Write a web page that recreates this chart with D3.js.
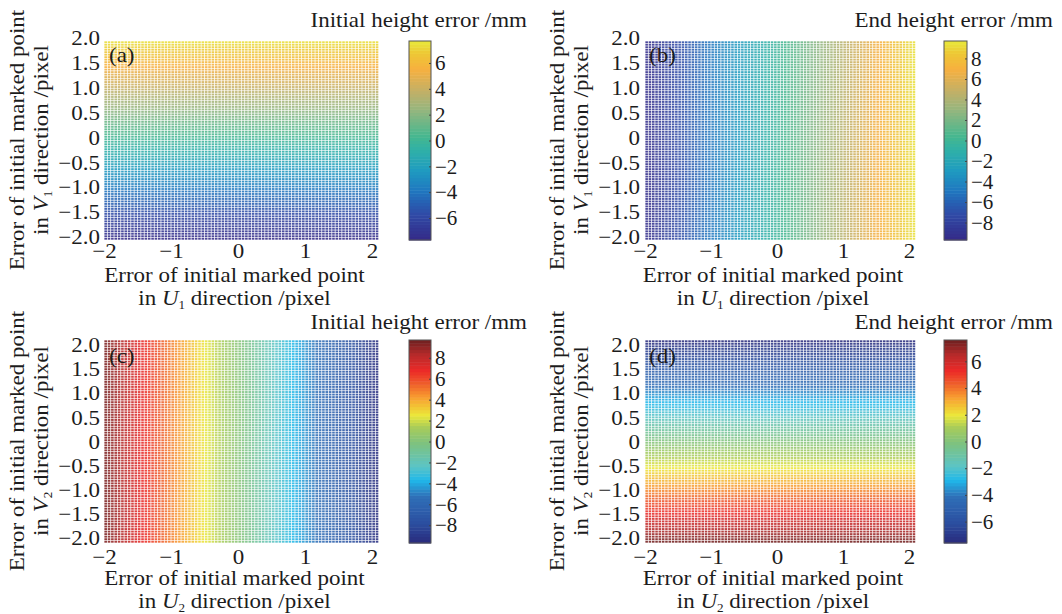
<!DOCTYPE html>
<html><head><meta charset="utf-8">
<script src="https://cdn.jsdelivr.net/npm/d3@7"></script>
<style>html,body{margin:0;padding:0;background:#fff}svg{display:block}text{font-family:"Liberation Serif",serif;fill:#1c1c1c}</style>
</head><body><div id="chart"></div>
<script>
const xTicks=[-2,-1,0,1,2];
const yTicks=[-2,-1.5,-1,-0.5,0,0.5,1,1.5,2];
const panelLabels=["(a)","(b)","(c)","(d)"];
const barTitles=["Initial height error /mm","End height error /mm","Initial height error /mm","End height error /mm"];
const barTicksA=[-6,-4,-2,0,2,4,6];
const barTicksB=[-8,-6,-4,-2,0,2,4,6,8];
const barTicksC=[-8,-6,-4,-2,0,2,4,6,8];
const barTicksD=[-6,-4,-2,0,2,4,6];
// height error along V (bottom to top) for panels a and d
const rowsA=[-7.6,-7.4,-7.2,-7.0,-6.8,-6.6,-6.5,-6.3,-6.1,-5.9,-5.7,-5.5,-5.3,-5.1,-4.9,-4.7,-4.6,-4.4,-4.2,-4.0,-3.8,-3.6,-3.4,-3.2,-3.0,-2.8,-2.7,-2.5,-2.3,-2.1,-1.9,-1.7,-1.5,-1.3,-1.1,-0.9,-0.8,-0.6,-0.4,-0.2,0,0.2,0.4,0.6,0.8,0.9,1.1,1.3,1.5,1.7,1.9,2.1,2.3,2.5,2.7,2.8,3.0,3.2,3.4,3.6,3.8,4.0,4.2,4.4,4.6,4.7,4.9,5.1,5.3,5.5,5.7,5.9,6.1,6.3,6.5,6.6,6.8,7.0,7.2,7.4];
const rowsD=[7.5,7.3,7.1,6.9,6.7,6.5,6.3,6.2,6.0,5.8,5.6,5.4,5.2,5.0,4.8,4.7,4.5,4.3,4.1,3.9,3.7,3.5,3.3,3.1,2.9,2.8,2.6,2.4,2.2,2.0,1.8,1.6,1.4,1.2,1.0,0.9,0.7,0.5,0.3,0.1,-0.1,-0.3,-0.5,-0.7,-0.9,-1.0,-1.2,-1.4,-1.6,-1.8,-2.0,-2.2,-2.4,-2.6,-2.8,-2.9,-3.1,-3.3,-3.5,-3.7,-3.9,-4.1,-4.3,-4.5,-4.7,-4.8,-5.0,-5.2,-5.4,-5.6,-5.8,-6.0,-6.2,-6.4,-6.6,-6.7,-6.9,-7.1,-7.3,-7.5];
// height error along U (left to right) for panels b and c
const colsB=[-9.4,-9.2,-9.0,-8.7,-8.5,-8.3,-8.0,-7.8,-7.6,-7.3,-7.1,-6.9,-6.6,-6.4,-6.2,-5.9,-5.7,-5.5,-5.2,-5.0,-4.8,-4.5,-4.3,-4.1,-3.8,-3.6,-3.4,-3.1,-2.9,-2.7,-2.4,-2.2,-2.0,-1.7,-1.5,-1.3,-1.0,-0.8,-0.6,-0.3,-0.1,0.1,0.4,0.6,0.8,1.1,1.3,1.5,1.8,2.0,2.2,2.5,2.7,2.9,3.2,3.4,3.6,3.9,4.1,4.3,4.6,4.8,5.0,5.3,5.5,5.7,6.0,6.2,6.4,6.7,6.9,7.1,7.4,7.6,7.8,8.1,8.3,8.5,8.8,9.0,9.2,9.4];
const colsC=[9.4,9.2,9.0,8.7,8.5,8.3,8.0,7.8,7.6,7.3,7.1,6.9,6.6,6.4,6.2,5.9,5.7,5.5,5.2,5.0,4.8,4.5,4.3,4.1,3.8,3.6,3.4,3.1,2.9,2.7,2.4,2.2,2.0,1.7,1.5,1.3,1.0,0.8,0.6,0.3,0.1,-0.1,-0.4,-0.6,-0.8,-1.1,-1.3,-1.5,-1.8,-2.0,-2.2,-2.5,-2.7,-2.9,-3.2,-3.4,-3.6,-3.9,-4.1,-4.3,-4.6,-4.8,-5.0,-5.3,-5.5,-5.7,-6.0,-6.2,-6.4,-6.7,-6.9,-7.1,-7.4,-7.6,-7.8,-8.1,-8.3,-8.5,-8.8,-9.0,-9.2,-9.4];
const parulaStops=["#352a87","#2f4aa6","#1f78c0","#1f9bc0","#2fb0a8","#45b78f","#93b67f","#c3b066","#f7b03f","#edc835","#e8e83a"];
const parulaAt=[0,0.13,0.25,0.35,0.45,0.52,0.65,0.75,0.86,0.94,1];
const jetStops=["#2a2a7c","#2b4fa0","#2f70b8","#20b8ea","#5cc4c4","#7dc280","#a8cc5a","#ece83a","#f89c30","#ee5a2a","#ec2a28","#b52a2a","#6e2020"];
const jetAt=[0,0.1,0.23,0.31,0.38,0.49,0.57,0.63,0.72,0.79,0.85,0.93,1];
const rangeA=7.7, rangeB=9.7, rangeC=9.7, rangeD=7.6;

const W=1062,H=614;
const svg=d3.select("#chart").append("svg").attr("width",W).attr("height",H).attr("viewBox",[0,0,W,H]);
const FS=21, SX=1.095;
const layoutX=[{l:104,r:377,x0:104,x2:372,bl:409,br:431},{l:644,r:914,x0:645,x2:909,bl:944,br:967}];
const layoutY=[{t:41,b:240,lt:38,lb:237,xl:250,t1:282,t2:305,title:27,tag:62,yc:140},{t:340,b:543,lt:345,lb:538,xl:556,t1:585,t2:608,title:329,tag:363,yc:441}];
const panels=[
 {c:0,r:0,rows:rowsA,cols:null,stops:parulaStops,at:parulaAt,range:rangeA,ticks:barTicksA,sub:"1"},
 {c:1,r:0,rows:null,cols:colsB,stops:parulaStops,at:parulaAt,range:rangeB,ticks:barTicksB,sub:"1"},
 {c:0,r:1,rows:null,cols:colsC,stops:jetStops,at:jetAt,range:rangeC,ticks:barTicksC,sub:"2"},
 {c:1,r:1,rows:rowsD,cols:null,stops:jetStops,at:jetAt,range:rangeD,ticks:barTicksD,sub:"2"}];
const fmtY=d=>d===0?"0":d3.format(".1f")(d);
const fmtN=d=>d3.format("d")(d);

panels.forEach((p,i)=>{
  const LX=layoutX[p.c],LY=layoutY[p.r];
  const g=svg.append("g");
  const x=d3.scaleLinear().domain([-2,2]).range([LX.x0,LX.x2]);
  const y=d3.scaleLinear().domain([-2,2]).range([LY.b,LY.t]);
  const color=d3.scaleLinear().domain(p.at.map(t=>-p.range+2*p.range*t)).range(p.stops);
  const nC=82,nR=80,dx=Math.abs(x(0.05)-x(0)),dy=Math.abs(y(0.05)-y(0));
  const colU=d3.range(nC).map(k=>-2+k*0.05), rowV=d3.range(nR).map(k=>-2+k*0.05);
  const cells=[];
  rowV.forEach((v,ri)=>colU.forEach((u,ci)=>cells.push({u,v,val:p.rows?p.rows[ri]:p.cols[ci]})));
  g.append("g").attr("opacity",0.88).selectAll("rect").data(cells).join("rect")
    .attr("x",d=>x(d.u)+0.38).attr("y",d=>y(d.v+0.05)+0.32)
    .attr("width",dx-0.76).attr("height",dy-0.64)
    .attr("fill",d=>color(d.val));
  const ax=g.append("g").attr("transform",`translate(0,${LY.xl-7})`)
    .call(d3.axisBottom(x).tickValues(xTicks).tickSize(0).tickFormat(fmtN));
  ax.select(".domain").remove();
  ax.selectAll("text").attr("font-size",FS).attr("dy","0.71em").attr("y",0).attr("fill","#1c1c1c").attr("transform",`scale(${SX},1)`);
  const yl=d3.scaleLinear().domain([-2,2]).range([LY.lb,LY.lt]);
  const ay=g.append("g").attr("transform",`translate(${LX.l-4},0)`)
    .call(d3.axisLeft(yl).tickValues(yTicks).tickSize(0).tickFormat(fmtY));
  ay.select(".domain").remove();
  ay.selectAll("text").attr("font-size",FS).attr("x",0).attr("fill","#1c1c1c").attr("transform",`scale(${SX},1)`);
  const cx=(LX.l+LX.r)/2-6;
  g.append("text").attr("transform",`translate(${cx},${LY.t1}) scale(${SX},1)`).attr("text-anchor","middle").attr("font-size",FS).text("Error of initial marked point");
  const t2=g.append("text").attr("transform",`translate(${cx},${LY.t2}) scale(${SX},1)`).attr("text-anchor","middle").attr("font-size",FS);
  t2.append("tspan").text("in ");
  t2.append("tspan").attr("font-style","italic").text("U");
  t2.append("tspan").attr("font-size",12).attr("dy",4).text(p.sub);
  t2.append("tspan").attr("dy",-4).text(" direction /pixel");
  const ox=LX.l-104+24;
  g.append("text").attr("transform",`translate(${ox},${LY.yc}) rotate(-90) scale(${SX},1)`).attr("text-anchor","middle").attr("font-size",FS).text("Error of initial marked point");
  const y2=g.append("text").attr("transform",`translate(${ox+24},${LY.yc}) rotate(-90) scale(${SX},1)`).attr("text-anchor","middle").attr("font-size",FS);
  y2.append("tspan").text("in ");
  y2.append("tspan").attr("font-style","italic").text("V");
  y2.append("tspan").attr("font-size",12).attr("dy",4).text(p.sub);
  y2.append("tspan").attr("dy",-4).text(" direction /pixel");
  g.append("text").attr("transform",`translate(${LX.l+5},${LY.tag}) scale(${SX},1)`).attr("font-size",FS).text(panelLabels[i]);
  g.append("text").attr("transform",`translate(${p.c?1053:527},${LY.title}) scale(${SX},1)`).attr("text-anchor","end").attr("font-size",FS).text(barTitles[i]);
  const by=d3.scaleLinear().domain([-p.range,p.range]).range([LY.b,LY.t]);
  const steps=d3.range(-p.range,p.range,2*p.range/64);
  g.append("g").selectAll("rect").data(steps).join("rect")
    .attr("x",LX.bl).attr("width",LX.br-LX.bl)
    .attr("y",d=>by(d+2*p.range/64)).attr("height",d=>by(d)-by(d+2*p.range/64)+0.5)
    .attr("fill",d=>color(d+p.range/64));
  g.append("rect").attr("x",LX.bl).attr("y",LY.t).attr("width",LX.br-LX.bl).attr("height",LY.b-LY.t)
    .attr("fill","none").attr("stroke","#555").attr("stroke-width",1);
  const ab=g.append("g").attr("transform",`translate(${LX.br},0)`)
    .call(d3.axisRight(by).tickValues(p.ticks).tickSize(-2).tickPadding(4).tickFormat(fmtN));
  ab.select(".domain").remove();
  ab.selectAll("line").attr("stroke","#444");
  ab.selectAll("text").attr("font-size",FS).attr("fill","#1c1c1c").attr("x",4);
});
</script></body></html>
